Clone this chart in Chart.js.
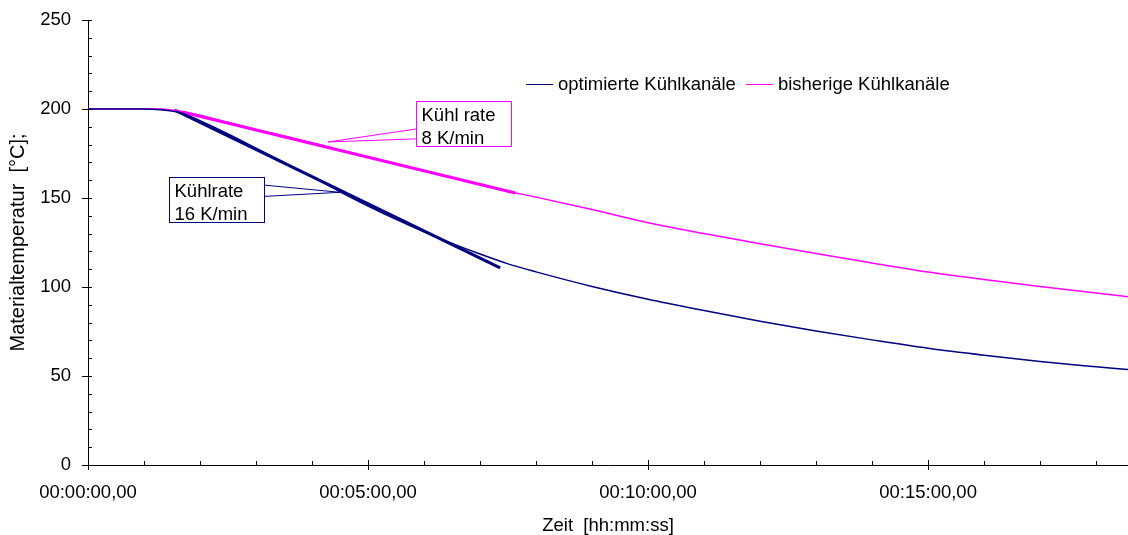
<!doctype html>
<html>
<head>
<meta charset="UTF-8">
<script src="https://cdn.jsdelivr.net/npm/chart.js"></script>
<style>
  html, body { margin: 0; padding: 0; background: #fff; }
  #wrap { width: 1128px; height: 535px; }
</style>
</head>
<body>
<div id="wrap"><canvas id="cooling"></canvas></div>
<script>
// time in minutes, temperatures in °C
const timeMin   = [0, 1.0, 1.3, 1.6, 2.0, 2.5, 3.0, 3.5, 4.0, 4.5, 5.0, 5.5, 6.0, 6.5, 7.0, 7.5, 8.0, 9.0, 10, 11, 12, 13, 14, 15, 16, 17, 18, 18.6];
const optimiert = [200, 200, 199.6, 198.3, 193.5, 186, 178, 170, 162, 153.5, 145.5, 138, 131, 124.5, 118.5, 113, 108.5, 100.3, 93.1, 86.8, 80.8, 75.3, 70.3, 65.6, 61.7, 58.2, 55.2, 53.5];
const bisherig  = [200, 200, 200, 199, 196.5, 192.5, 188.5, 184.8, 181, 177, 173, 169.2, 165.3, 161.3, 157.4, 153.8, 150.5, 143.5, 136.1, 130, 124.3, 118.8, 113.5, 108.4, 104.2, 100.3, 96.6, 94.4];

// cooling-rate tangents (start / end)
const tangent16T = [1.55, 7.36];
const tangent16V = [199.4, 110.7];
const tangent8T  = [1.68, 7.63];
const tangent8V  = [198.3, 152.8];

const xTicks = [0, 5, 10, 15];
const seriesNames = ['optimierte Kühlkanäle', 'bisherige Kühlkanäle'];

const NAVY = '#000080';
const PINK = '#ff00ff';
const FONT = '"Liberation Sans", Arial, sans-serif';

function pts(t, v) { return t.map((x, i) => ({ x: x, y: v[i] })); }

function fmtTime(min) {
  const s = Math.round(min * 60);
  const hh = String(Math.floor(s / 3600)).padStart(2, '0');
  const mm = String(Math.floor(s / 60) % 60).padStart(2, '0');
  const ss = String(s % 60).padStart(2, '0');
  return hh + ':' + mm + ':' + ss + ',00';
}

// callout boxes, in data coordinates
const callouts = [
  { lines: ['Kühl rate', '8 K/min'], color: PINK, box: [5.86, 204.7, 7.55, 179.2], tip: [4.29, 181.5], side: 'left', at: [0.61, 0.83] },
  { lines: ['Kühlrate', '16 K/min'], color: NAVY, box: [1.45, 162, 3.14, 136.3], tip: [4.5, 153.2], side: 'right', at: [0.17, 0.42] }
];

const extras = {
  id: 'extras',
  afterDraw(chart) {
    const ctx = chart.ctx;
    const xs = chart.scales.x, ys = chart.scales.y;
    const x0 = xs.getPixelForValue(0), y0 = ys.getPixelForValue(0);
    ctx.save();
    ctx.strokeStyle = '#000';
    ctx.lineWidth = 1;
    ctx.beginPath();
    // y ticks: majors cross, minors inside
    for (let v = 0; v <= 250; v += 10) {
      const y = Math.round(ys.getPixelForValue(v)) + 0.5;
      if (v % 50 === 0) { ctx.moveTo(x0 - 6, y); ctx.lineTo(x0 + 4, y); }
      else { ctx.moveTo(x0, y); ctx.lineTo(x0 + 4, y); }
    }
    // x ticks: every minute
    for (let m = 0; m <= xs.max; m += 1) {
      const x = Math.round(xs.getPixelForValue(m)) + 0.5;
      if (m % 5 === 0) { ctx.moveTo(x, y0 - 5); ctx.lineTo(x, y0 + 5); }
      else { ctx.moveTo(x, y0 - 4); ctx.lineTo(x, y0); }
    }
    ctx.stroke();

    // callouts
    ctx.font = '18.5px ' + FONT;
    ctx.textBaseline = 'alphabetic';
    ctx.textAlign = 'left';
    callouts.forEach(c => {
      const l = Math.round(xs.getPixelForValue(c.box[0])) + 0.5;
      const t = Math.round(ys.getPixelForValue(c.box[1])) + 0.5;
      const r = Math.round(xs.getPixelForValue(c.box[2])) + 0.5;
      const b = Math.round(ys.getPixelForValue(c.box[3])) + 0.5;
      const tx = xs.getPixelForValue(c.tip[0]), ty = ys.getPixelForValue(c.tip[1]);
      const ex = c.side === 'left' ? l : r;
      ctx.strokeStyle = c.color;
      ctx.lineWidth = 1;
      ctx.beginPath();
      c.at.forEach(f => { ctx.moveTo(ex, t + (b - t) * f); ctx.lineTo(tx, ty); });
      ctx.stroke();
      ctx.fillStyle = '#fff';
      ctx.fillRect(l, t, r - l, b - t);
      ctx.strokeRect(l, t, r - l, b - t);
      ctx.fillStyle = '#000';
      c.lines.forEach((s, i) => ctx.fillText(s, l + 5, t + 19.5 + i * 23));
    });

    // legend
    let lx = 526;
    const ly = 84.5;
    ctx.textBaseline = 'middle';
    chart.data.datasets.slice(0, 2).forEach(ds => {
      ctx.strokeStyle = ds.borderColor;
      ctx.lineWidth = 1;
      ctx.beginPath();
      ctx.moveTo(lx, ly); ctx.lineTo(lx + 27, ly);
      ctx.stroke();
      ctx.fillStyle = '#000';
      ctx.fillText(ds.label, lx + 32, ly);
      lx += 32 + ctx.measureText(ds.label).width + 10;
    });
    ctx.restore();
  }
};

new Chart(document.getElementById('cooling'), {
  type: 'line',
  data: {
    datasets: [
      { label: seriesNames[0], data: pts(timeMin, optimiert), borderColor: NAVY, borderWidth: 1.5, pointRadius: 0, cubicInterpolationMode: 'monotone' },
      { label: seriesNames[1], data: pts(timeMin, bisherig), borderColor: PINK, borderWidth: 1.5, pointRadius: 0, cubicInterpolationMode: 'monotone' },
      { label: 'Kühlrate 16 K/min', data: pts(tangent16T, tangent16V), borderColor: NAVY, borderWidth: 3, pointRadius: 0 },
      { label: 'Kühl rate 8 K/min', data: pts(tangent8T, tangent8V), borderColor: PINK, borderWidth: 3, pointRadius: 0 }
    ]
  },
  options: {
    responsive: true,
    maintainAspectRatio: false,
    animation: false,
    layout: { padding: { top: 20, right: 0, left: 0, bottom: 0 } },
    plugins: { legend: { display: false }, tooltip: { enabled: false } },
    scales: {
      x: {
        type: 'linear',
        min: 0,
        max: 18.57,
        grid: { display: false, drawTicks: false },
        border: { display: true, color: '#000', width: 1 },
        afterBuildTicks: s => { s.ticks = xTicks.map(v => ({ value: v })); },
        afterFit: s => { s.height = 70; s.paddingLeft = 0; s.paddingRight = 0; },
        ticks: { color: '#000', padding: 17, maxRotation: 0, font: { family: FONT, size: 18.5 }, callback: v => fmtTime(v) },
        title: { display: true, text: 'Zeit  [hh:mm:ss]', color: '#000', font: { family: FONT, size: 18.5 }, padding: { top: 0, bottom: -2 } }
      },
      y: {
        min: 0,
        max: 250,
        grid: { display: false, drawTicks: false },
        border: { display: true, color: '#000', width: 1 },
        afterFit: s => { s.width = 88; s.paddingTop = 0; s.paddingBottom = 0; },
        ticks: { stepSize: 50, color: '#000', padding: 17, font: { family: FONT, size: 18.5 } },
        title: { display: true, text: 'Materialtemperatur  [°C];', color: '#000', font: { family: FONT, size: 20 }, padding: { top: 6, bottom: 0 } }
      }
    }
  },
  plugins: [extras]
});
</script>
</body>
</html>
